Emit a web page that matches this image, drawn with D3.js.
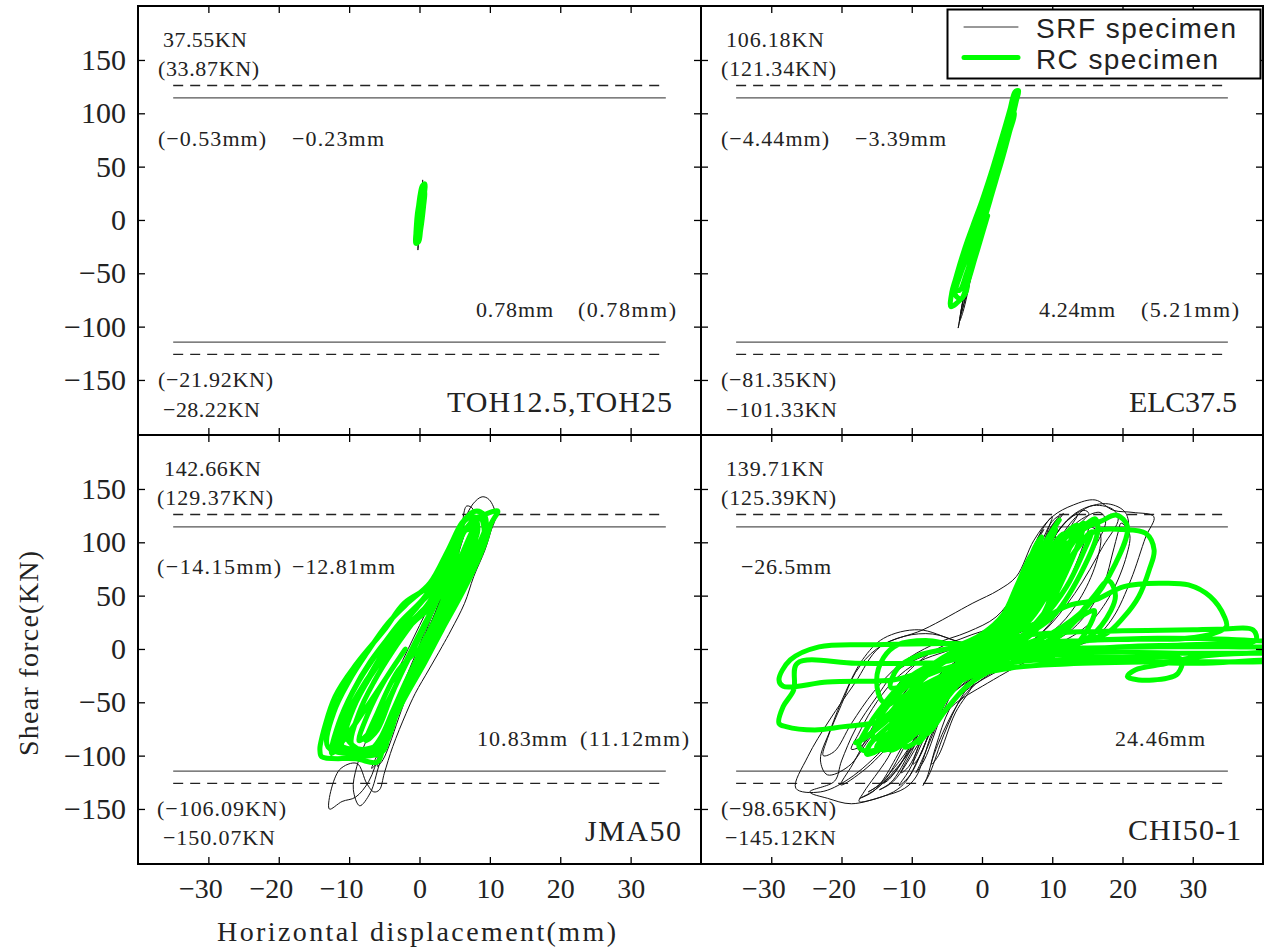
<!DOCTYPE html>
<html>
<head>
<meta charset="utf-8">
<script src="https://cdn.jsdelivr.net/npm/d3@7"></script>
<style>
  body { margin: 0; background: #fff; }
  svg { display: block; }
</style>
</head>
<body>
<svg id="chart" width="1264" height="947"></svg>
<script>
// ---------- axis ticks and names ----------
const xTicks = [-30, -20, -10, 0, 10, 20, 30];
const yTicks = [-150, -100, -50, 0, 50, 100, 150];
const panelNames = ["TOH12.5,TOH25", "ELC37.5", "JMA50", "CHI50-1"];
const seriesNames = ["SRF specimen", "RC specimen"];
const xTitle = "Horizontal displacement(mm)";
const yTitle = "Shear force(KN)";
// reference capacity levels (kN): solid, dashed; drawn over this displacement span (mm)
const capacityLevels = [114.5, 126];
const capacitySpan = [-35, 35];

// ---------- load-displacement records [displacement mm, shear kN] ----------
const tohSRF = [[0,0],[0.2,12],[0.38,26],[0.45,37.55],[0.4,31],[0.22,14],[0,-4],[-0.15,-16],[-0.23,-28.22],[-0.12,-20],[0.05,-6],[0.3,10],[0.55,24],[0.78,33],[0.62,25],[0.3,8],[0.02,-8],[-0.18,-22],[-0.08,-14],[0.1,-2]];
const tohRC = [[0,0],[0.3,8],[0.55,18],[0.72,26],[0.78,33.87],[0.4,32],[0.1,24],[-0.15,12],[-0.35,0],[-0.5,-12],[-0.53,-21.92],[-0.1,-20],[0.15,-10],[0.4,2],[0.6,14],[0.75,24],[0.65,31],[0.3,28],[0,18],[-0.3,6],[-0.45,-6],[-0.5,-16],[-0.3,-21],[0,-14],[0.25,-4],[0.45,8],[0.2,12],[-0.1,2],[-0.25,-10],[0,0]];

const elcSRF = [[0,0],[1.1,28],[2.2,58],[3.2,85],[4.24,106.18],[3.9,99],[2.8,74],[1.5,40],[0.2,6],[-1.1,-28],[-2.3,-62],[-3.39,-101.33],[-3.1,-92],[-2.0,-62],[-0.8,-28],[0.5,8],[1.7,40],[2.6,68],[3.5,92],[3.0,84],[1.8,52],[0.5,16],[-0.8,-20],[-2.1,-56],[-3.2,-95],[-2.7,-86],[-1.5,-52],[-0.2,-14],[1.2,24],[2.5,60],[3.6,88],[2.9,75],[1.4,36],[0,-2],[-1.5,-40],[-2.8,-78],[-3.0,-88],[-2.2,-70],[-1,-36],[0.3,0]];
const elcRC = [[0,0],[0.7,14],[1.6,34],[2.6,56],[3.5,78],[4.4,98],[4.9,112],[5.21,121.34],[4.7,120],[4.0,104],[3.3,88],[2.4,68],[1.3,44],[0,18],[-1.0,0],[-2.0,-18],[-3.0,-38],[-3.8,-56],[-4.3,-68],[-4.44,-81.35],[-3.6,-78],[-2.3,-68],[-1.9,-50],[-1.2,-30],[-0.3,-10],[0.6,8],[1.5,28],[2.4,48],[3.4,72],[4.2,92],[4.5,104],[3.8,98],[2.8,74],[1.8,52],[0.8,30],[-0.3,8],[-1.4,-14],[-2.4,-34],[-3.4,-52],[-4.0,-64],[-3.2,-66],[-2.2,-50],[-1.4,-34],[-0.4,-14],[0.5,4],[1.4,24],[2.2,42],[3.0,60],[3.9,82],[4.6,100],[4.2,104],[3.2,80],[2.0,54],[0.9,30],[-0.2,6],[-1.2,-16],[-2.2,-36],[-3.0,-50],[-3.8,-70],[-3.0,-74],[-2.0,-58],[-1.0,-36],[0,-14],[0.8,4]];

const jmaSRF = [[0,0],[2,35],[4,70],[5.5,100],[6.4,118],[5.4,104],[3,58],[0.5,12],[-2,-28],[-4,-62],[-5.8,-96],[-6.8,-112],[-5.8,-104],[-3.4,-62],[-1,-18],[1.5,22],[4,66],[5.8,104],[6.7,134],[7.6,131],[6.6,112],[4.6,70],[2,22],[-1,-28],[-3.8,-72],[-5.7,-108],[-7,-135],[-8.5,-147],[-9.4,-132],[-8.9,-110],[-6.4,-68],[-3.2,-22],[0,22],[2.8,60],[4.8,92],[6.2,118],[7.6,136],[8.9,142.66],[9.9,140],[10.83,125],[10.2,111.6],[9.3,92.8],[7.7,67.8],[6.4,42.8],[4.5,17.8],[3.2,2.2],[1.3,-19.7],[-0.6,-41.6],[-1.9,-60.3],[-3.8,-91.5],[-5,-116.5],[-5.7,-132.1],[-6.5,-134],[-7.5,-126],[-8.9,-107.3],[-11.4,-113.5],[-12.81,-150.07],[-11,-143],[-9.1,-139],[-7.2,-124],[-5.6,-96],[-3.6,-60],[-1.4,-22],[1.2,18],[3.6,55],[5.4,90],[6.6,112],[5.9,102],[3.8,60],[1.2,15],[-1.6,-30],[-4.2,-76],[-6,-110],[-5.2,-104],[-2.6,-58],[0,-10]];
const jmaRC = [[0,0],[2,25],[3.9,55],[5.8,85],[7.3,108],[8.4,122],[9.6,127],[11.12,129.37],[10.2,117.8],[9.3,99],[7.7,74],[5.8,49],[3.2,17.8],[0.7,-13.4],[-2.5,-51],[-5,-88.4],[-6,-106.09],[-9,-103],[-13.9,-101],[-14.15,-95],[-14.1,-90],[-12,-44.7],[-8.9,-13.4],[-5,17.8],[-2.2,42.8],[1.3,58.4],[3.9,80.3],[5.8,114.6],[7.7,128.7],[9,127],[9.5,118],[8.3,96],[6.6,70],[4.6,44],[2,12],[-0.8,-22],[-3.6,-58],[-5.6,-84],[-7.5,-100],[-10.5,-98],[-12,-92],[-11,-62],[-8.6,-30],[-5.6,0],[-2.6,26],[0.4,46],[3,70],[5,98],[6.4,120],[7.8,124],[8.3,112],[7.2,90],[5.5,62],[3.4,34],[0.9,2],[-2,-36],[-4.2,-66],[-6,-90],[-9.5,-94],[-11.6,-88],[-10.5,-64],[-8,-34],[-5,-6],[-2,20],[1,40],[3.4,58],[5,86],[6.2,108],[7.2,116],[7.4,104],[6,80],[4.4,56],[2.4,28],[0,-4],[-2.8,-44],[-4.6,-72],[-5.4,-92],[-8,-96],[-10.4,-82],[-9.4,-56],[-7,-26],[-4,2],[-1,24],[2,42],[4.2,68],[5.4,92],[4.6,80],[2.8,50],[0.4,16],[-2.2,-18],[-4.4,-48],[-6.8,-76],[-8.6,-86],[-7.4,-62],[-5,-30],[-2,0],
  [-12.5,-98],[-11.5,-70],[-9.5,-40],[-7,-12],[-4,14],[-1,36],[2,56],[4.5,84],[6.5,112],[8.5,124],[9.2,110],[7.8,84],[6,58],[3.8,30],[1.4,2],[-1,-28],[-3.2,-60],[-5,-90],[-8,-98],
  [-13,-92],[-12.2,-60],[-10,-30],[-7.5,-4],[-4.5,24],[-1.5,44],[1.5,62],[4,92],[6,118],[7,124],[8,104],[6.6,76],[4.8,50],[2.5,22],[0,-8],[-2.4,-42],[-4.2,-74],[-5.2,-96],[-9,-100],
  [-11,-94],[-10,-66],[-8,-36],[-5.6,-8],[-3,18],[-0.2,40],[2.6,64],[4.6,94],[6.2,110],[7.6,112],[7,92],[5.4,64],[3.4,36],[1,6],[-1.6,-26],[-3.8,-58],[-5.6,-84],[-7,-94],
  [-9.6,-90],[-8.6,-60],[-6.4,-30],[-3.8,-2],[-1,24],[1.6,46],[3.6,72],[5.2,96],[4.8,80],[3,52],[0.6,22],[-1.8,-10],[-4,-44],[-6,-76],[-7.6,-86],[-6,-60],[-3,-20],[0,0]];

const chiSRF = [[0,0],[2,14],[4.5,45],[6.5,80],[8,105],[8.8,112],[7.8,100],[5,52],[2,12],[-1.5,-10],[-4.5,-40],[-7,-80],[-8.8,-108],[-9.4,-116],[-8.2,-104],[-5.5,-58],[-2.5,-20],
  [0,-2],[3,16],[6,55],[8.6,98],[10.5,120],[11.6,127],[10.4,116],[7.2,64],[4,22],[0.5,-6],[-3.5,-28],[-7.5,-74],[-10.4,-114],[-11.8,-128],[-10.2,-118],[-6.5,-64],[-3,-22],
  [0,0],[4,22],[7.8,74],[11.5,116],[14.5,130],[15.2,127],[13.8,116],[10.2,74],[6,26],[1,-8],[-4,-34],[-8.6,-84],[-12.6,-124],[-14.6,-132],[-12.8,-124],[-8.4,-72],[-4.4,-26],
  [-0.5,0],[4.5,24],[8.8,76],[12.6,118],[15.5,134],[18.6,131],[19.4,122],[17.2,96],[13.2,52],[8.4,14],[2.5,-12],[-4.6,-44],[-10,-94],[-14.8,-130],[-17.4,-140],[-15.2,-132],[-10.5,-82],[-5.5,-30],
  [-1.5,-4],[2,10],[5.5,32],[7.8,78],[9.6,112],[11,125],[9.8,118],[6.8,70],[3.6,20],[-0.5,-10],[-5.5,-34],[-11.5,-78],[-16.5,-112],[-20.1,-127.5],[-18.4,-108],[-14.6,-62],[-10.6,-22],[-6.4,0],[-2,12],[2.5,24],[6.5,54],
  [9.5,96],[12,120],[14.6,132],[18,136],[20.4,128],[20.8,110],[18.2,72],[14,32],[9,6],[3.5,-16],[-2.5,-40],[-6.8,-72],[-9,-102],[-10.8,-124],[-12.6,-134],[-16,-142],[-17.5,-143],[-16.8,-134],[-13.4,-102],[-10.2,-62],[-6.4,-26],[-2.4,-6],[1.5,10],[5,30],[7.6,78],[9.4,112],[10,124],
  [8.4,110],[5.6,60],[2,14],[-2.5,-14],[-7.5,-44],[-13.5,-90],[-19,-122],[-23,-134],[-26.5,-130.6],[-24.8,-101],[-21.7,-66.6],[-18.1,-32],[-14.5,2],[-8.4,18],[-1.3,43],[2.3,55],[4.9,68],[7.4,102],[10,124],[13,135],[16.1,139.71],[18.7,130],[21.5,128],[24.46,124],[23.3,105],[21.2,65],[18.7,30],[16,10],[13,2],[7.9,-7.3],[0.8,-32],[-4.3,-54],[-6.9,-76],[-8.4,-104],[-9.4,-120],[-11,-130.6],[-14,-138],[-18.6,-145.12],[-22,-140],[-24.5,-134],[-21,-124],[-20,-105],[-18,-75],[-15,-45],[-12,-20],[-6,-2],[0,0],
  [3,18],[6,48],[8.5,88],[10,110],[11,118],[10,108],[7.5,62],[4.5,22],[1,-4],[-3,-22],[-7,-58],[-10,-96],[-11.5,-116],[-10.4,-110],[-7.6,-70],[-4.2,-30],[-1,-6],[2.5,12],[5.5,36],[8,76],[10.6,108],[12.8,124],[13.6,126],[12.4,112],[9.6,70],[6.4,30],[2.6,2],[-2,-20],[-6.6,-52],[-10.6,-98],[-13.2,-122],[-14,-126],[-12.2,-114],[-9,-76],[-5.6,-36],[-2,-10],[1.6,8],[5,26],[8.2,62],[11.2,100],[13.8,120],[16.8,128],[17.6,120],[15.8,92],[12.4,50],[8.6,16],[3.8,-6],[-1.8,-28],[-7.2,-62],[-11.6,-104],[-14.8,-128],[-16.2,-134],[-14,-124],[-10.4,-84],[-6.8,-44],[-3,-16],[0,0],
  [-4,8],[-9,18],[-14,10],[-17,-10],[-19.4,-40],[-21.6,-76],[-23,-104],[-22,-118],[-19,-110],[-16,-84],[-12.4,-52],[-8.6,-24],[-4.4,-6],[0,0],[4,14],[7,40],[9,84],[10.5,106],[9.4,98],[6.8,54],[3.2,14],[-1,-12],[-5,-36],[-8.4,-80],[-9.8,-108],[-8.8,-100],[-6,-52],[-2.6,-18],[0,0],
  [-3,6],[-7,14],[-11,12],[-15,0],[-18,-22],[-20,-52],[-22,-84],[-22.6,-100],[-21,-96],[-18.6,-70],[-15.4,-40],[-11.6,-14],[-7,4],[-2,16],[2,30],[4.6,52],[6.4,80],[7.6,96],[6.8,86],[4.4,48],[1.6,22],[-1.6,6],[-5,-2],[-9,-12],[-12.6,-30],[-15.6,-56],[-17.6,-80],[-18.6,-94],[-17,-90],[-14.4,-64],[-11.2,-38],[-7.6,-16],[-3.6,-2],[0,4],[3.6,10],[7.6,24],[11,46],[13.4,80],[14.8,104],[15.4,114],[16.8,108],[16.4,84],[14.2,50],[11,22],[7,4],[2.4,-12],[-1.6,-28],[-4.6,-56],[-6.6,-92],[-7.8,-120],[-8.4,-128],[-7.4,-116],[-5.4,-80],[-3,-46],[0,-20],[4,-6],[8,2],[12,14],[15,34],[17.4,62],[18.6,90],[19.4,110],[19.8,118],[21,108],[20.6,88],[18.4,52],[15,22],[10.6,4],[5.6,-10],[1,-24],[-2.6,-44],[-5.4,-76],[-7.2,-108],[-6.2,-100],[-3.8,-60],[-1,-30],[0,0]];
const chiRC = [[0,0],[2,15],[5,45],[7,80],[8.5,105],[7.5,95],[4,35],[1,5],[-2,-15],[-5,-40],[-7.5,-70],[-9,-88],[-8,-80],[-5,-45],[-2,-15],[0,0],
  [3,15],[6,55],[9,100],[11,120.9],[10,110],[7,60],[3,15],[-1,-8],[-6,-35],[-10,-70],[-13,-90],[-12,-88],[-8,-55],[-4,-22],[0,-2],
  [4,15],[8,60],[12,105],[15,118],[16.1,122],[16.5,112],[14,70],[10,30],[5,8],[0,-10],[-6,-30],[-12,-65],[-16,-90],[-16.4,-98.65],[-14,-92],[-10,-60],[-5,-22],[0,2],
  [5,18],[10,65],[14,110],[17,120],[19.2,125.39],[20.7,114.7],[19,80],[15,40],[10,15],[4,0],[-2,-12],[-8,-35],[-14,-70],[-17,-85],[-18,-88],[-16,-80],[-11,-45],[-6,-15],[0,5],
  [6,22],[12,80],[16,110],[20,112],[23.3,108.5],[24.5,92.8],[23.8,74],[22.3,49],[20.2,30],[17.6,14],[12,5],[5,-5],[-3,-18],[-10,-40],[-15,-62],[-12.5,-63.4],[-8,-40],[-3,-15],[0,5],
  [-3,5],[-7.4,5],[-15,4],[-23.2,2],[-27.3,-10.3],[-28.9,-29],[-28.3,-35],[-22,-31],[-15,-30],[-12.5,-29],[-8,-20],[-3,-5],[2,10],
  [6,30],[10,70],[13,100],[14,110],[12,95],[8,50],[3,15],[-4,-10],[-9.4,-13.4],[-18,-13.4],[-26.3,-13.4],[-26.8,-38.4],[-28.3,-54],[-28.9,-69.7],[-27.9,-72.8],[-23.8,-75.9],[-19.7,-72.8],[-15.6,-69.7],[-12.5,-63.4],[-8,-40],[-3,-12],[2,8],
  [8,25],[12,40],[16.1,46],[20.2,58.5],[25.3,61.6],[29.4,60],[32.5,49],[34.5,30.3],[34.8,20.9],[33,14.6],[28.9,9.9],[22,9],[16.1,8.4],[10,3],[4,-5],[-2,-15],[-7,-40],[-10,-75],[-11,-92],[-9,-85],[-5,-45],[0,-5],
  [4,10],[10,15],[20,17],[30,18],[33.5,18.4],[38.6,17.8],[39,8.3],[35.1,5.3],[28.4,3.7],[20,2],[10,-2],[3,-10],[-3,-25],[-8,-55],[-12,-85],[-13,-95],[-11,-88],[-6,-50],[-2,-18],[2,0],
  [6,2],[15,1],[25,2],[35,2],[42,1],[45,-3],[43,-9],[40,-10.3],[31.6,-13.4],[22,-12],[12,-10],[5,-12],[-2,-25],[-7,-55],[-10,-80],[-9,-70],[-5,-40],[0,-15],[4,-3],
  [10,-5],[20,-8],[28.4,-10],[27.9,-22.8],[26.4,-27.4],[22.3,-29],[20.7,-26],[21.8,-19.7],[26,-14],[30,-8],[38,-4],[44,-6],[46,-10],[40,-12],[25,-12],[12,-14],[4,-18],[-3,-30],[-8,-60],
  [-12,-90],[-14,-95],[-12,-90],[-8,-62],[-4,-30],[0,-8],[4,5],[8,25],[11,70],[12.5,100],[11.5,95],[8,50],[4,15],[0,-3],[-5,-22],[-10,-45],[-14,-66],[-12,-64],[-7,-38],[-2,-10],[3,10],[7,40],[9,75],[8,70],[5,35],[1,5],[-3,-12],[-6,-28],[-7,-45],[-5,-35],[-1,-10],[0,0],
  [-4,-20],[-9,-50],[-13,-78],[-15,-92],[-13.5,-94],[-10.5,-74],[-7,-46],[-3.5,-18],[0,6],[3.5,30],[6.5,62],[9,96],[10.5,112],[9.6,100],[7.4,70],[4.6,38],[1.6,10],[-1.6,-14],[-5,-36],[-9,-62],[-11.5,-80],[-10,-82],[-6.5,-58],[-3,-30],[0.5,-6],[4,20],[7,52],[10,90],[12.5,112],[13.5,116],[12.8,100],[10.5,66],[7.5,34],[4,10],[0,-12],[-4.5,-34],[-9.5,-60],[-13.5,-82],[-14.5,-88],[-12,-76],[-8,-50],[-4,-24],[0,0],
  [3,18],[6,46],[8.5,82],[9.8,104],[8.8,96],[6.4,62],[3.6,30],[0.4,4],[-3,-20],[-6.4,-46],[-9.6,-72],[-12,-86],[-10.6,-86],[-7.4,-62],[-4,-36],[-0.6,-12],[2.4,10],[5.4,36],[8,70],[10.2,98],[11.6,108],[10.8,90],[8.6,58],[5.6,26],[2.2,2],[-1.6,-22],[-5.6,-44],[-10,-66],[-13,-76],[-11.4,-70],[-7,-44],[-3,-20],[1,4],[5,24],[9,50],[12,80],[14.6,104],[15.6,110],[14.4,90],[12,58],[8.5,28],[4.5,6],[0,-14],[-4,-30],[-8,-50],[-11,-66],[-9,-60],[-5,-38],[-1,-14],[3,8],[7,36],[10,74],[12,96],[11,84],[8,46],[4,14],[0,-4],
  [5,4],[15,8],[25,10],[35,9],[42,6],[44,2],[40,-3],[30,-4],[20,-3],[10,-4],[3,-8],
  [0,0],[-3,-6],[-7,-14],[-11,-30],[-14,-52],[-16.5,-76],[-17.5,-92],[-16,-96],[-13,-86],[-10,-62],[-7,-40],[-3,-22],[1,-8],[5,4],[8,20],[10.5,50],[12,86],[13,108],[14.5,118],[14,104],[12,72],[9.5,40],[6,14],[2,-2],[-2,-12],[-6,-20],[-10,-32],[-13,-50],[-15,-70],[-15.5,-84],[-13.5,-80],[-11,-60],[-8,-38],[-4,-20],[0,-6],[4,6],[7,16],[9,34],[10,60],[11,90],[9.8,80],[8,50],[5,22],[1,2],
  [-4,4],[-8,8],[-12,4],[-14,-8],[-15,-30],[-14,-50],[-11,-44],[-8,-22],[-4,-4],[0,10],[3,22],[5,40],[7,70],[8,95],[7,88],[5,60],[3,32],[0,14],[-4,2],[-9,-6],[-12,-18],[-13,-36],[-11,-34],[-7,-14],[-2,2],
  [2,-4],[6,-6],[10,-2],[14,6],[17,22],[19,50],[18,64],[16,50],[13,26],[9,6],[5,-4],[1,-14],[-3,-30],[-7,-54],[-9,-76],[-8,-80],[-5,-56],[-2,-34],[2,-18],[6,-10],[10,-6],[13,2],[15,18],[16,36],[14,30],[11,12],[7,0],[3,-8],[0,-14]];

// ---------- layout ----------
const serif = "'Liberation Serif','DejaVu Serif',serif";
const sans = "'Liberation Sans','DejaVu Sans',sans-serif";
const ink = "#222";
const xDomain = [-40, 40];
const yDomain = [-201.6, 200.6];

// annotation slots: [series, quantity, dx, dy, width] relative to panel corner
const topNotes = (w) => [
  ["srf", "fmax", 25, 40.5, w[0]], ["rc", "fmax", 20, 70, w[1]],
  ["rc", "dmin", 20, 139.5, w[2]], ["srf", "dmin", 154, 139.5, w[3]],
  ["srf", "dmax", 338, 311, w[4]], ["rc", "dmax", 440, 311, w[5]],
  ["rc", "fmin", 20, 380.5, w[6]], ["srf", "fmin", 25, 410.5, w[7]]
];

const panels = [
  { name: panelNames[0], srf: tohSRF, rc: tohRC, x0: 138, x1: 701, y0: 6, y1: 435,
    title: [447, 412, 225], notes: topNotes([84, 101, 108, 92, 77, 98, 115, 97]) },
  { name: panelNames[1], srf: elcSRF, rc: elcRC, x0: 701, x1: 1263, y0: 6, y1: 435,
    title: [1129, 412, 108], notes: topNotes([98, 115, 108, 91, 76, 98, 115, 111]) },
  { name: panelNames[2], srf: jmaSRF, rc: jmaRC, x0: 138, x1: 701, y0: 435, y1: 864,
    title: [585, 841, 96],
    notes: [["srf","fmax",26,41,97],["rc","fmax",19,70,116],["rc","dmin",19,139,124],["srf","dmin",154,139,103],
            ["srf","dmax",339,311,90],["rc","dmax",442,311,109],["rc","fmin",19,381,129],["srf","fmin",25,410,112]] },
  { name: panelNames[3], srf: chiSRF, rc: chiRC, x0: 701, x1: 1263, y0: 435, y1: 864,
    title: [1128, 840, 113],
    notes: [["srf","fmax",25,41,98],["rc","fmax",20,70,115],["srf","dmin",40,139,90],
            ["srf","dmax",414,311,90],["rc","fmin",20,381,115],["srf","fmin",24,410,111]] }
];

const svg = d3.select("#chart");
svg.append("rect").attr("width", 1264).attr("height", 947).attr("fill", "#fff");

function quantity(rec, q) {
  if (q === "fmax") return d3.max(rec, d => d[1]);
  if (q === "fmin") return d3.min(rec, d => d[1]);
  if (q === "dmax") return d3.max(rec, d => d[0]);
  return d3.min(rec, d => d[0]);
}
function numText(v) {
  return (v < 0 ? "\u2212" : "") + String(Math.abs(+v.toFixed(2)));
}

panels.forEach((p, i) => {
  const xs = d3.scaleLinear().domain(xDomain).range([p.x0, p.x1]);
  const ys = d3.scaleLinear().domain(yDomain).range([p.y1, p.y0]);
  const g = svg.append("g").attr("class", "panel");

  const clipId = "panel-clip-" + i;
  svg.append("clipPath").attr("id", clipId)
    .append("rect").attr("x", p.x0).attr("y", p.y0)
    .attr("width", p.x1 - p.x0).attr("height", p.y1 - p.y0);

  // capacity levels
  capacityLevels.forEach((lv, k) => {
    [lv, -lv].forEach(v => {
      g.append("line")
        .attr("x1", xs(capacitySpan[0])).attr("x2", xs(capacitySpan[1]))
        .attr("y1", ys(v)).attr("y2", ys(v))
        .attr("stroke", k === 0 ? "#555" : "#222")
        .attr("stroke-width", 1.4)
        .attr("stroke-dasharray", k === 0 ? null : "10,7");
    });
  });

  // hysteresis curves
  const line = d3.line().x(d => xs(d[0])).y(d => ys(d[1])).curve(d3.curveCatmullRom.alpha(0.5));
  const curves = g.append("g").attr("clip-path", `url(#${clipId})`);
  curves.append("path").attr("d", line(p.srf)).attr("fill", "none")
    .attr("stroke", "#111").attr("stroke-width", 1).attr("stroke-linejoin", "round");
  curves.append("path").attr("d", line(p.rc)).attr("fill", "none")
    .attr("stroke", "#00ff00").attr("stroke-width", 5)
    .attr("stroke-linejoin", "round").attr("stroke-linecap", "round");

  // inward ticks on all four sides
  const isLeft = p.x0 < 200, isBottom = p.y1 > 800;
  const styleAxis = sel => {
    sel.select(".domain").remove();
    sel.selectAll(".tick line").attr("stroke", "#000").attr("stroke-width", 1.3);
    sel.attr("font-family", serif).attr("fill", ink);
    sel.selectAll(".tick text").attr("fill", ink);
  };
  const fmt = d => (d < 0 ? "\u2212" : "") + Math.abs(d);

  g.append("g").attr("transform", `translate(0,${p.y0})`)
    .call(d3.axisTop(xs).tickValues(xTicks).tickSize(-7).tickFormat(""))
    .call(styleAxis);
  g.append("g").attr("transform", `translate(${p.x1},0)`)
    .call(d3.axisRight(ys).tickValues(yTicks).tickSize(-7).tickFormat(""))
    .call(styleAxis);

  const bottom = g.append("g").attr("transform", `translate(0,${p.y1})`)
    .call(d3.axisBottom(xs).tickValues(xTicks).tickSize(-7).tickPadding(14)
      .tickFormat(isBottom ? fmt : ""))
    .call(styleAxis);
  bottom.attr("font-size", 28);
  bottom.selectAll(".tick text")
    .attr("text-anchor", "end")
    .attr("x", d => String(Math.abs(d)).length * 7);

  const left = g.append("g").attr("transform", `translate(${p.x0},0)`)
    .call(d3.axisLeft(ys).tickValues(yTicks).tickSize(-7).tickPadding(12)
      .tickFormat(isLeft ? fmt : ""))
    .call(styleAxis);
  left.attr("font-size", 30);

  // extreme-value notes
  p.notes.forEach(([s, q, dx, dy, w]) => {
    const v = quantity(p[s], q);
    const unit = q[0] === "f" ? "KN" : "mm";
    const txt = s === "rc" ? `(${numText(v)}${unit})` : `${numText(v)}${unit}`;
    g.append("text")
      .attr("x", p.x0 + dx).attr("y", p.y0 + dy)
      .attr("font-family", serif).attr("font-size", 22).attr("fill", ink)
      .attr("textLength", w).attr("lengthAdjust", "spacing")
      .text(txt);
  });

  // record name
  g.append("text")
    .attr("x", p.title[0]).attr("y", p.title[1])
    .attr("font-family", serif).attr("font-size", 30).attr("fill", ink)
    .attr("textLength", p.title[2]).attr("lengthAdjust", "spacing")
    .text(p.name);

  // frame
  g.append("rect").attr("x", p.x0).attr("y", p.y0)
    .attr("width", p.x1 - p.x0).attr("height", p.y1 - p.y0)
    .attr("fill", "none").attr("stroke", "#000").attr("stroke-width", 2);
});

// axis titles
svg.append("text")
  .attr("x", 217).attr("y", 941)
  .attr("font-family", serif).attr("font-size", 28).attr("fill", ink)
  .attr("textLength", 399).attr("lengthAdjust", "spacing")
  .text(xTitle);
svg.append("text")
  .attr("transform", "translate(38,756) rotate(-90)")
  .attr("font-family", serif).attr("font-size", 28).attr("fill", ink)
  .attr("textLength", 205).attr("lengthAdjust", "spacing")
  .text(yTitle);

// legend
const lg = svg.append("g");
lg.append("rect").attr("x", 947.5).attr("y", 9.5).attr("width", 313).attr("height", 69)
  .attr("fill", "#fff").attr("stroke", "#000").attr("stroke-width", 2);
const legendRows = [
  { label: seriesNames[0], y: 27, stroke: "#333", width: 1, textY: 38, textW: 200 },
  { label: seriesNames[1], y: 57.5, stroke: "#00ff00", width: 5, textY: 68.5, textW: 182 }
];
legendRows.forEach(r => {
  lg.append("line").attr("x1", 964).attr("x2", 1018).attr("y1", r.y).attr("y2", r.y)
    .attr("stroke", r.stroke).attr("stroke-width", r.width).attr("stroke-linecap", "round");
  lg.append("text").attr("x", 1036).attr("y", r.textY)
    .attr("font-family", sans).attr("font-size", 28).attr("fill", ink)
    .attr("textLength", r.textW).attr("lengthAdjust", "spacing")
    .text(r.label);
});
</script>
</body>
</html>
